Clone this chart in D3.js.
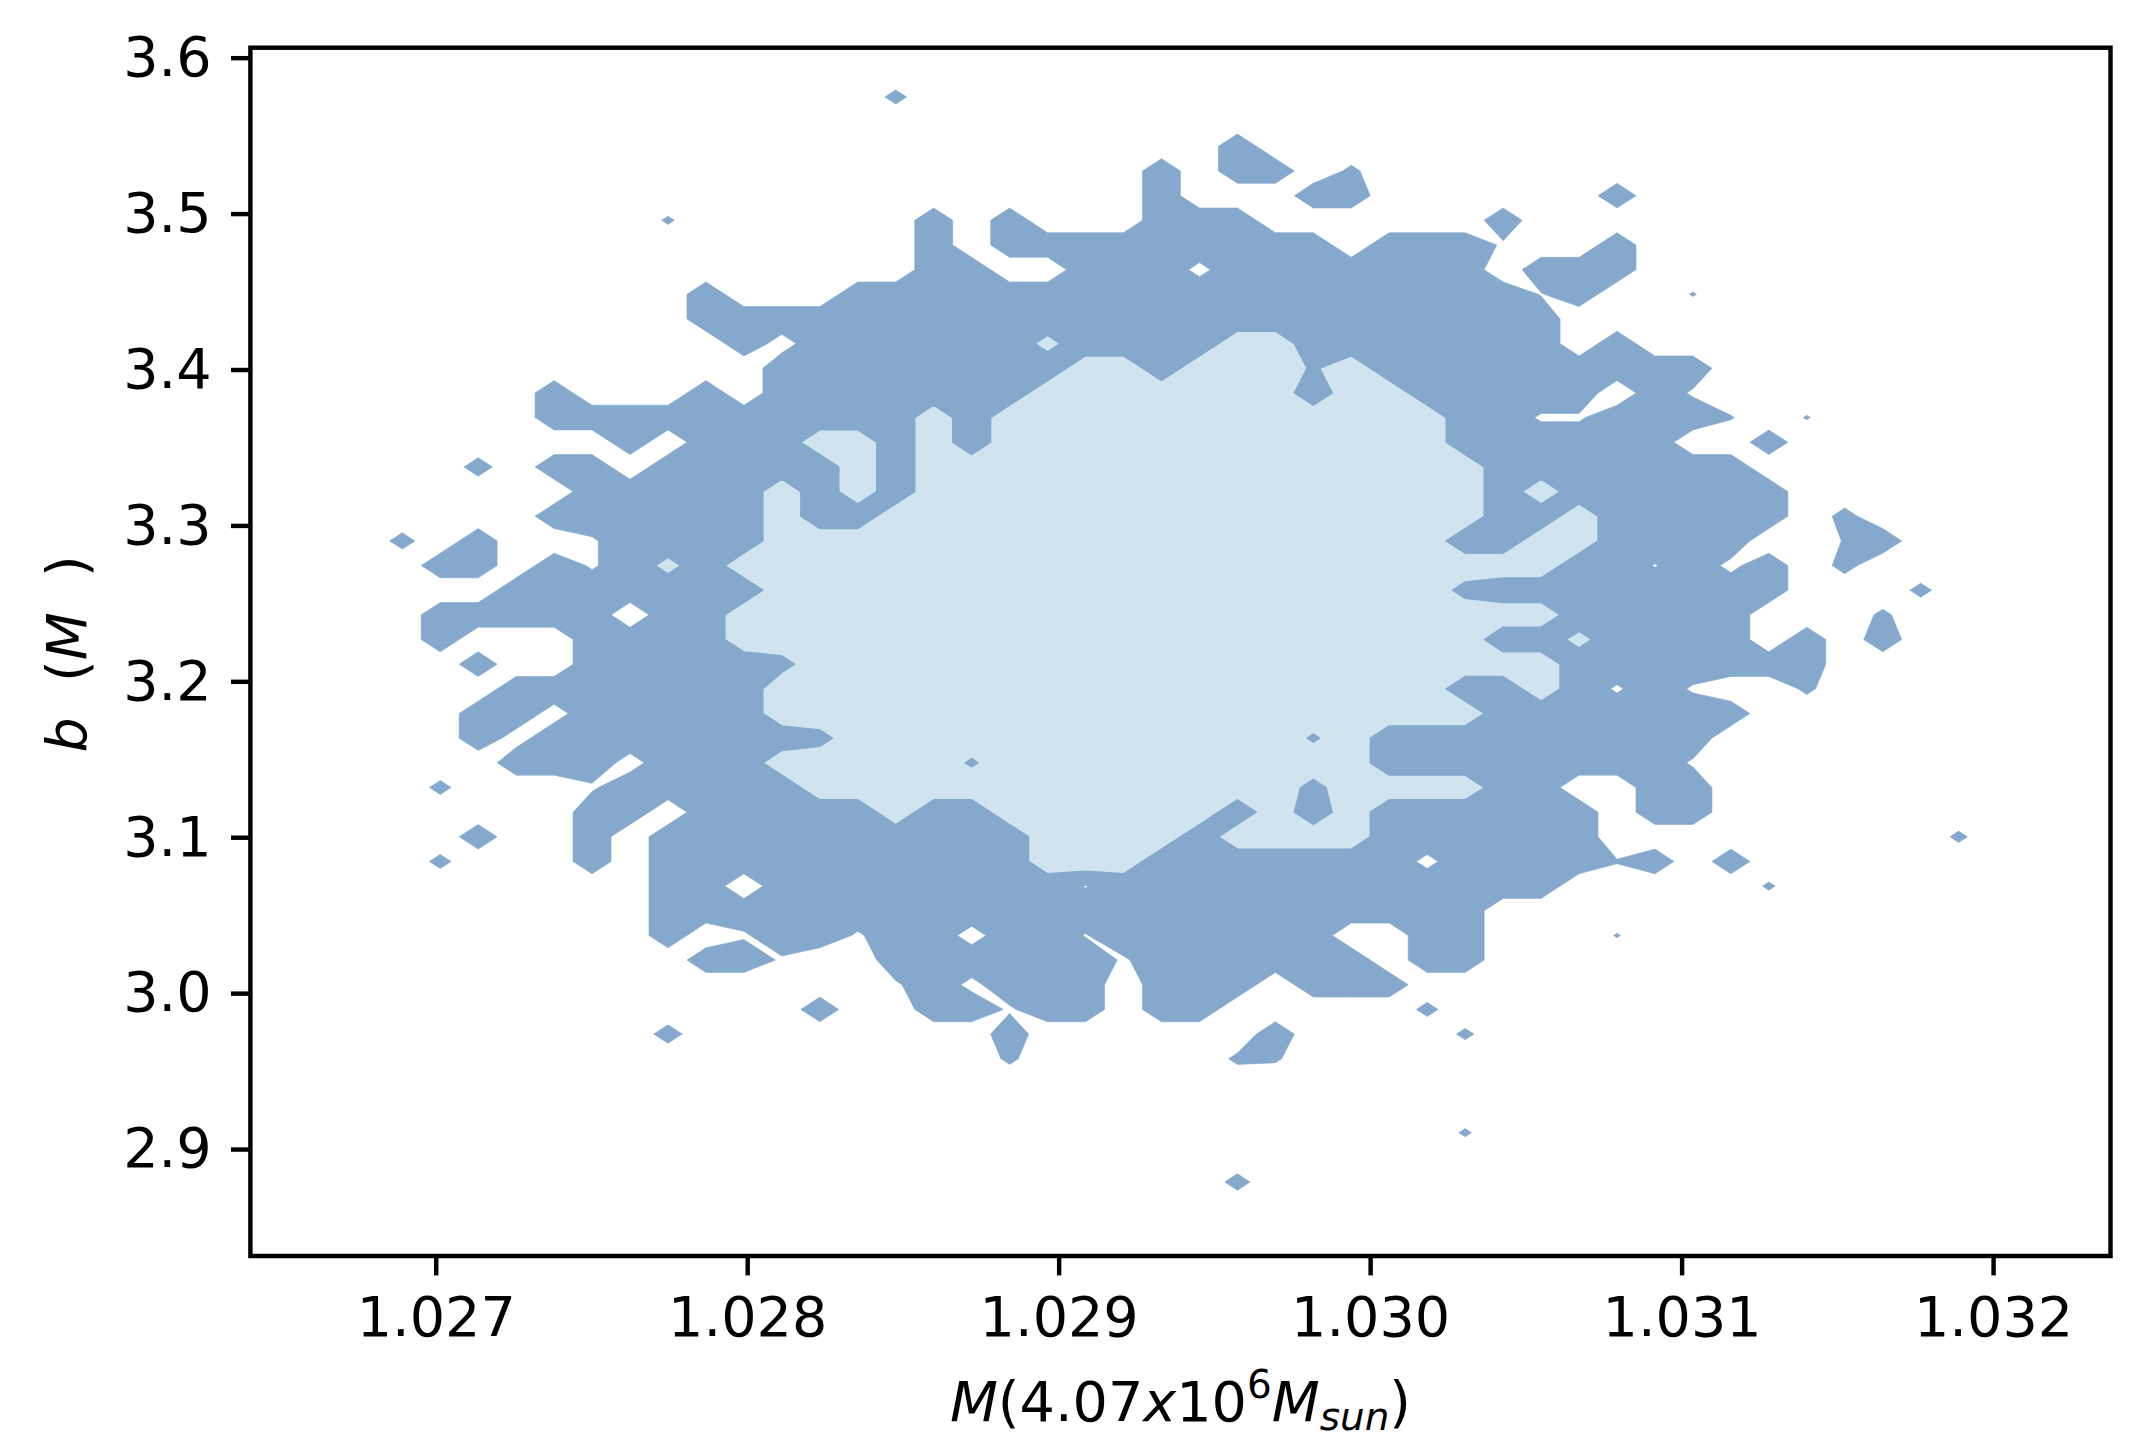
<!DOCTYPE html>
<html><head><meta charset="utf-8">
<script src="https://cdn.jsdelivr.net/npm/d3@7"></script>
<style>
body{margin:0;background:#fff}
svg{display:block}
text{font-family:"DejaVu Sans",sans-serif;fill:#000}
</style>
</head><body>
<script>
// ---- data ----
const xTicks = [1.027, 1.028, 1.029, 1.030, 1.031, 1.032];
const yTicks = [2.9, 3.0, 3.1, 3.2, 3.3, 3.4, 3.5, 3.6];
const xGrid = [1.026405, 1.032377];   // first / last grid column (data)
const yGrid = [2.8314, 3.6064];       // first / last grid row (data)
const levels = [5, 20];               // contour levels
const levelColors = ["#84a9cd", "#d0e4f0"];
// value of each grid code
const cellValue = {'.':0,'o':2,'q':3,'w':4,'u':4.6,'d':10,'x':15,'y':18,'l':25,'L':30,
  '1':5.5,'2':6,'3':6.5,'4':7,'5':7.5,'6':8,'7':8.5,'8':9,'9':9.5};
// 50 x 50 grid, top row first (b high -> low), columns M low -> high
const gridRows = [
".......... .......... .......... .......... ..........",
".......... .......... .......... .......... ..........",
".......... .......4.. .......... .......... ..........",
".......... .......... .......... .......... ..........",
".......... .......... ......d... .......... ..........",
".......... .......... ....d.dd.3 .......... ..........",
".......... .......... ....d...dd ......d... ..........",
".......... .2......d. d...ddd... ...d...... ..........",
".......... ........d. ddddddddd. dddw..d... ..........",
".......... ........dd ..dddqdddd ddd.ddd... ..........",
".......... ..d...dddd dddddddddd ddddud..1. ..........",
".......... ..dddddddd dddddddddd ddddd..... ..........",
".......... ...doddddd dlddddLLdd ddddd.d... ..........",
".......... ....dddddd ddLLdLLLyL ddddddddd. ..........",
"........d. ..d.dddddd dLLLLLLLdL Lddddd.dw. ..........",
"........dd ddddddddLd LLLLLLLLLL LLddwwddd1 .1........",
".......... d.dddLLdLd LLLLLLLLLL LLdddddd.. d.........",
"......6.dd .dddddLdLL LLLLLLLLLL LLLddddddd ..........",
".........d ddddLdLdLL LLLLLLLLLL LLLdLddddd d.........",
"........dd ddddLddLLL LLLLLLLLLL LLLddLdddd d.5.......",
"....5.d..w ddddLLLLLL LLLLLLLLLL LLddLLdddd ..1d......",
".....dd.dw dldLLLLLLL LLLLLLLLLL LLLLLddudq d.5.......",
".......ddd ddddLLLLLL LLLLLLLLLL LLxddddddd d...4.....",
".....ddddd .ddLLLLLLL LLLLLLLLLL LLLLLddddd ...3......",
".....d...d dddLLLLLLL LLLLLLLLLL LLLddldddd .d.d......",
"......d..d ddddxLLLLL LLLLLLLLLL LLLLLddddd dd........",
".......ddd ddddLLLLLL LLLLLLLLLL LLddLdwdw. .3........",
"......ddod ddddLLLLLL LLLLLLLLLL LLLddddddd ..........",
"......dodd dddddxLLLL LLLLLLLLyL ddddddddd. ..........",
".......ddd odddLLLLLy LLLLLLLLLL ddddddddw. ..........",
".....4...w dddddLLLLL LLLLLLLLxL LLLdd..dd. ..........",
".........d d.dddddLdd LLLLLLdLdL dddddd.dd. ..........",
"......d..d .ddddddddd dLLLLdLLLL dddddd.... .....3....",
".....4...d .ddddddddd dLLLdddddd dqdddd1d.d ..........",
".......... .dd.dddddd dduddddddd ddddd..... 2.........",
".......... .ddddddddd dddddddddd ddd....... ..........",
".......... .d.wddwddo ddudddddd. .dd...1... ..........",
".......... ..ddw..ddd dddwdddddd .dd....... ..........",
".......... .......wdq ddd.ddd.dd d......... ..........",
".......... .....d..dd wdd.dd.... .4........ ..........",
".......... .6........ d......d.. ..3....... ..........",
".......... .......... 3.....32.. .......... ..........",
".......... .......... .......... .......... ..........",
".......... .......... .......... .......... ..........",
".......... .......... .......... ..2....... ..........",
".......... .......... .......... .......... ..........",
".......... .......... ......5... .......... ..........",
".......... .......... .......... .......... ..........",
".......... .......... .......... .......... ..........",
".......... .......... .......... .......... .........."
];

// ---- layout ----
const W = 2141, H = 1455;
const P = {left: 250.4, right: 2110.5, top: 47.7, bottom: 1256};
const FS = 55.6, LW = 4.44, TICK = 19.4, PAD = 19.4;

const svg = d3.select("body").append("svg").attr("width", W).attr("height", H);
const x = d3.scaleLinear().domain(xGrid).range([P.left, P.right]);
const y = d3.scaleLinear().domain(yGrid).range([P.bottom, P.top]);

svg.append("defs").append("clipPath").attr("id","clip").append("rect")
  .attr("x",P.left).attr("y",P.top).attr("width",P.right-P.left).attr("height",P.bottom-P.top);

// contours
const rows = gridRows.map(r => r.replace(/ /g, ""));
const nx = rows[0].length, ny = rows.length;
const values = new Array(nx * ny);
rows.forEach((r, ri) => { for (let i = 0; i < nx; i++) values[ri * nx + i] = cellValue[r[i]] ?? 0; });
const dxg = (xGrid[1] - xGrid[0]) / (nx - 1), dyg = (yGrid[1] - yGrid[0]) / (ny - 1);
const proj = d3.geoTransform({ point(px, py) {
  this.stream.point(x(xGrid[0] + (px - 0.5) * dxg), y(yGrid[1] - (py - 0.5) * dyg));
}});
const path = d3.geoPath(proj);
const contours = d3.contours().size([nx, ny]).thresholds(levels)(values);

const g = svg.append("g").attr("clip-path", "url(#clip)");
g.selectAll("path").data(contours).join("path")
  .attr("d", path)
  .attr("fill", (d, k) => levelColors[k])
  .attr("fill-rule", "evenodd")
  .attr("stroke", levelColors[0])
  .attr("stroke-width", (d, k) => k === 0 ? 0.6 : 1.4)
  .attr("stroke-linejoin", "round");

// axes
const xAxis = d3.axisBottom(x).tickValues(xTicks).tickFormat(d3.format(".3f"))
  .tickSize(TICK).tickPadding(PAD).tickSizeOuter(0);
const yAxis = d3.axisLeft(y).tickValues(yTicks).tickFormat(d3.format(".1f"))
  .tickSize(TICK).tickPadding(PAD).tickSizeOuter(0);

const gx = svg.append("g").attr("transform", `translate(0,${P.bottom})`).call(xAxis);
const gy = svg.append("g").attr("transform", `translate(${P.left},0)`).call(yAxis);
[gx, gy].forEach(a => {
  a.select(".domain").remove();
  a.attr("font-size", FS).attr("font-family", '"DejaVu Sans", sans-serif');
  a.selectAll(".tick line").attr("stroke", "#000").attr("stroke-width", LW);
  a.selectAll(".tick text").attr("fill", "#000");
});
gx.selectAll(".tick text").attr("dy", "0.74em");

// frame
svg.append("rect").attr("x", P.left).attr("y", P.top)
  .attr("width", P.right - P.left).attr("height", P.bottom - P.top)
  .attr("fill", "none").attr("stroke", "#000").attr("stroke-width", LW);

// x label
const xl = svg.append("text").attr("x", (P.left + P.right) / 2).attr("y", 1421)
  .attr("text-anchor", "middle").attr("font-size", FS);
xl.append("tspan").attr("font-style", "italic").text("M");
xl.append("tspan").text("(4.07");
xl.append("tspan").attr("font-style", "italic").text("x");
xl.append("tspan").text("10");
xl.append("tspan").attr("font-size", FS * 0.7).attr("dy", -23).text("6");
xl.append("tspan").attr("font-style", "italic").attr("dy", 23).text("M");
xl.append("tspan").attr("font-style", "italic").attr("font-size", FS * 0.7).attr("dy", 9).text("sun");
xl.append("tspan").attr("dy", -9).text(")");

// y label
const yl = svg.append("text").attr("transform", `translate(86,${(P.top + P.bottom) / 2 + 2}) rotate(-90)`)
  .attr("text-anchor", "middle").attr("font-size", FS);
yl.append("tspan").attr("font-style", "italic").text("b");
yl.append("tspan").text("\u00a0\u00a0(");
yl.append("tspan").attr("font-style", "italic").text("M");
yl.append("tspan").text("\u00a0\u00a0)");
</script>
</body></html>
